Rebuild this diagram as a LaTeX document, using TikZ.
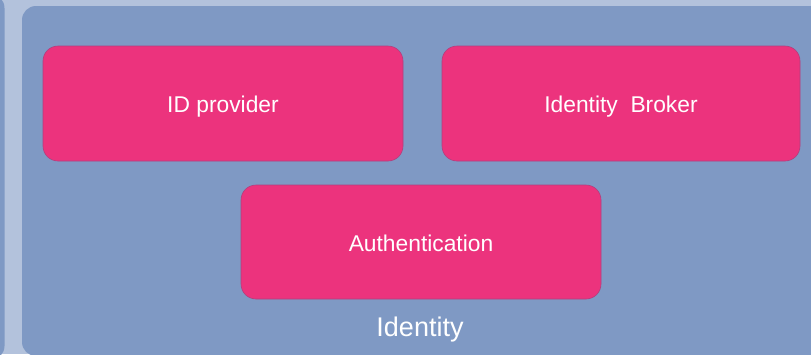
\documentclass[tikz,border=0pt]{standalone}
\usepackage{fontspec}
\setmainfont{Liberation Sans}
\definecolor{bgc}{HTML}{B3C2DC}
\definecolor{panelc}{HTML}{7F99C4}
\definecolor{pinkc}{HTML}{EC337D}
\definecolor{pinkb}{HTML}{B0407E}
\begin{document}
\begin{tikzpicture}[x=1pt,y=-1pt,
  panel/.style={fill=panelc,draw=none,rounded corners=14pt},
  compbox/.style={fill=pinkc,draw=pinkb,line width=0.6pt,rounded corners=15pt},
  boxtext/.style={text=white,font=\fontsize{22.8}{26}\selectfont,inner sep=0pt,anchor=base},
  paneltext/.style={text=white,font=\fontsize{27}{30}\selectfont,inner sep=0pt,anchor=base}]
\useasboundingbox (0,0) rectangle (811,354);
\fill[bgc] (0,0) rectangle (811,354);
\fill[panel] (-100,-6) rectangle (4.5,360);
\fill[panel] (22,6) rectangle (825,356);
\draw[compbox] (43,46) rectangle (403,161);
\draw[compbox] (442,46) rectangle (800,161);
\draw[compbox] (241,185) rectangle (601,299);
\node[boxtext] (idp) at (223,112) {ID provider};
\node[boxtext] (ibr) at (621,112) {Identity\ \ Broker};
\node[boxtext] (auth) at (421,251) {Authentication};
\node[paneltext] (ident) at (420,336) {Identity};
\end{tikzpicture}
\end{document}
